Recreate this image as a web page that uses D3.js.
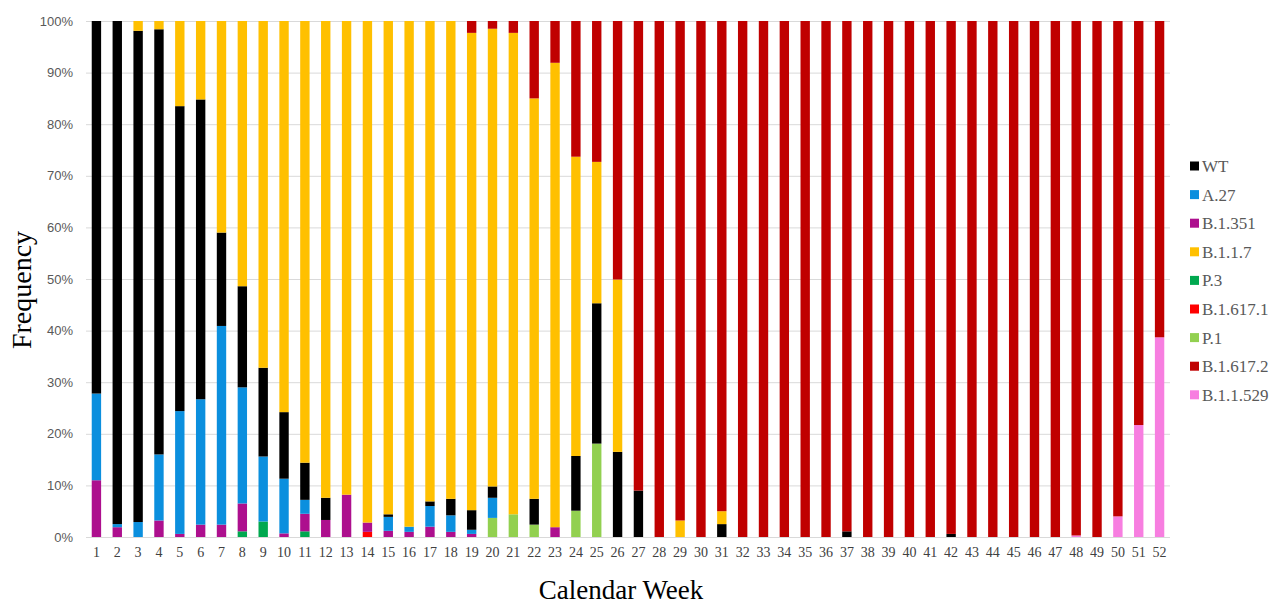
<!DOCTYPE html>
<html>
<head>
<meta charset="utf-8">
<script src="https://cdn.jsdelivr.net/npm/d3@7"></script>
<style>
  html, body { margin: 0; padding: 0; background: #fff; }
  svg { display: block; }
</style>
</head>
<body>
<svg id="chart" width="1272" height="607"></svg>
<script>
const weeks = d3.range(1, 53).map(String);
const yTicks = [0, 10, 20, 30, 40, 50, 60, 70, 80, 90, 100];

// Legend order (as shown)
const legendOrder = ["WT", "A.27", "B.1.351", "B.1.1.7", "P.3", "B.1.617.1", "P.1", "B.1.617.2", "B.1.1.529"];
// Stacking order, bottom to top
const stackOrder = ["B.1.1.529", "P.1", "B.1.617.1", "P.3", "B.1.351", "A.27", "WT", "B.1.1.7", "B.1.617.2"];

const colors = {
  "WT": "#000000",
  "A.27": "#0b8fde",
  "B.1.351": "#ad0f8e",
  "B.1.1.7": "#ffc000",
  "P.3": "#00a84f",
  "B.1.617.1": "#ff0000",
  "P.1": "#92d050",
  "B.1.617.2": "#c00000",
  "B.1.1.529": "#f77ee0"
};

// Percent per calendar week (1..52)
const WT = [72.2,97.5,95.2,82.4,59.1,58.1,18.1,19.6,17.2,12.9, 7.2,4.3,0,0,0.5,0,0.9,3.2,3.8,2.2, 0,5.0,0,10.6,27.2,16.5,9.0,0,0,0, 2.5,0,0,0,0,0,1.1,0,0,0, 0,0.6,0,0,0,0,0,0,0,0, 0,0];
const A27 = [16.8,0.6,2.9,12.8,23.8,24.3,38.5,22.5,12.6,10.6, 2.7,0,0,0,2.7,1.0,4.0,3.2,0.8,3.9, 0,0,0,0,0,0,0,0,0,0, 0,0,0,0,0,0,0,0,0,0, 0,0,0,0,0,0,0,0,0,0, 0,0];
const B1351 = [11.0,1.9,0,3.2,0.6,2.4,2.4,5.4,0,0.7, 3.4,3.3,8.2,1.8,1.2,1.0,2.0,1.0,0.6,0, 0,0,1.9,0,0,0,0,0,0,0, 0,0,0,0,0,0,0,0,0,0, 0,0,0,0,0,0,0,0,0,0, 0,0];
const B117 = [0,0,1.9,1.6,16.5,15.2,41.0,51.4,67.2,75.8, 85.6,92.4,91.8,97.2,95.6,98.0,93.1,92.6,92.5,88.7, 93.3,77.6,90.0,58.0,27.4,33.4,0,0,3.2,0, 2.5,0,0,0,0,0,0,0,0,0, 0,0,0,0,0,0,0,0,0,0, 0,0];
const P3 = [0,0,0,0,0,0,0,1.1,3.0,0, 1.1,0,0,0,0,0,0,0,0,0, 0,0,0,0,0,0,0,0,0,0, 0,0,0,0,0,0,0,0,0,0, 0,0,0,0,0,0,0,0,0,0, 0,0];
const B16171 = [0,0,0,0,0,0,0,0,0,0, 0,0,0,1.0,0,0,0,0,0,0, 0,0,0,0,0,0,0,0,0,0, 0,0,0,0,0,0,0,0,0,0, 0,0,0,0,0,0,0,0,0,0, 0,0];
const P1 = [0,0,0,0,0,0,0,0,0,0, 0,0,0,0,0,0,0,0,0,3.7, 4.4,2.4,0,5.1,18.1,0,0,0,0,0, 0,0,0,0,0,0,0,0,0,0, 0,0,0,0,0,0,0,0,0,0, 0,0];
const B16172 = [0,0,0,0,0,0,0,0,0,0, 0,0,0,0,0,0,0,0,2.3,1.5, 2.3,15.0,8.1,26.3,27.3,50.1,91.0,100,96.8,100, 95.0,100,100,100,100,100,98.9,100,100,100, 100,99.4,100,100,100,100,100,99.7,100,96.0, 78.3,61.3];
const B11529 = [0,0,0,0,0,0,0,0,0,0, 0,0,0,0,0,0,0,0,0,0, 0,0,0,0,0,0,0,0,0,0, 0,0,0,0,0,0,0,0,0,0, 0,0,0,0,0,0,0,0.3,0,4.0, 21.7,38.7];

const seriesValues = {
  "WT": WT, "A.27": A27, "B.1.351": B1351, "B.1.1.7": B117, "P.3": P3,
  "B.1.617.1": B16171, "P.1": P1, "B.1.617.2": B16172, "B.1.1.529": B11529
};

const table = weeks.map((w, i) => {
  const row = { week: w };
  for (const k of stackOrder) row[k] = seriesValues[k][i];
  return row;
});

const svg = d3.select("#chart");
const plot = { left: 86, right: 1170, top: 21, bottom: 537 };

const x = d3.scaleBand().domain(weeks).range([plot.left, plot.right]).paddingInner(0.55).paddingOuter(0.275);
const y = d3.scaleLinear().domain([0, 100]).range([plot.bottom, plot.top]);

// gridlines
svg.append("g")
  .selectAll("line")
  .data(yTicks)
  .join("line")
  .attr("x1", plot.left).attr("x2", plot.right)
  .attr("y1", d => y(d) + 0.5).attr("y2", d => y(d) + 0.5)
  .attr("stroke", "#d9d9d9").attr("stroke-width", 1);

// y axis labels
const yAxis = d3.axisLeft(y).tickValues(yTicks).tickSize(0).tickPadding(13).tickFormat(d => d + "%");
const gy = svg.append("g").attr("transform", `translate(${plot.left},0)`).call(yAxis);
gy.select(".domain").remove();
gy.selectAll("text").attr("font-family", "'Liberation Sans', Arial, sans-serif").attr("font-size", 13).attr("fill", "#595959");

// bars
const stacked = d3.stack().keys(stackOrder)(table);
svg.append("g")
  .selectAll("g")
  .data(stacked)
  .join("g")
  .attr("fill", d => colors[d.key])
  .selectAll("rect")
  .data(d => d)
  .join("rect")
  .attr("x", d => x(d.data.week))
  .attr("width", x.bandwidth())
  .attr("y", d => y(d[1]))
  .attr("height", d => Math.max(0, y(d[0]) - y(d[1])));

// x axis
const xAxis = d3.axisBottom(x).tickSize(0).tickPadding(10);
const gx = svg.append("g").attr("transform", `translate(0,${plot.bottom})`).call(xAxis);
gx.select(".domain").remove();
gx.selectAll("text").attr("font-family", "'Liberation Serif', 'Times New Roman', serif").attr("font-size", 14).attr("fill", "#404040");

// axis titles
svg.append("text")
  .attr("x", 621).attr("y", 599)
  .attr("text-anchor", "middle")
  .attr("font-family", "'Liberation Serif', 'Times New Roman', serif")
  .attr("font-size", 27).attr("fill", "#000")
  .text("Calendar Week");

svg.append("text")
  .attr("transform", "translate(31,290) rotate(-90)")
  .attr("text-anchor", "middle")
  .attr("font-family", "'Liberation Serif', 'Times New Roman', serif")
  .attr("font-size", 28).attr("fill", "#000")
  .text("Frequency");

// legend
const legend = svg.append("g").attr("transform", "translate(1190,166)");
const li = legend.selectAll("g").data(legendOrder).join("g")
  .attr("transform", (d, i) => `translate(0,${i * 28.6})`);
li.append("rect").attr("x", 0).attr("y", -4.5).attr("width", 9).attr("height", 9).attr("fill", d => colors[d]);
li.append("text").attr("x", 12).attr("y", 6)
  .attr("font-family", "'Liberation Serif', 'Times New Roman', serif")
  .attr("font-size", 17).attr("fill", "#595959")
  .text(d => d);
</script>
</body>
</html>
